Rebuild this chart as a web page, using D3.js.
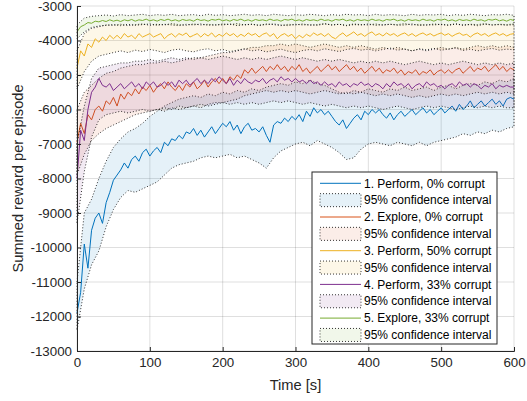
<!DOCTYPE html>
<html><head><meta charset="utf-8">
<script src="https://cdn.jsdelivr.net/npm/d3@7"></script>
<style>
html,body{margin:0;padding:0;background:#fff;}
svg{display:block;font-family:"Liberation Sans",Arial,Helvetica,sans-serif;}
</style></head>
<body>
<svg id="chart" width="527" height="401"></svg>
<script>
// ---------------- DATA ----------------
const xTicks = [0, 100, 200, 300, 400, 500, 600];
const yTicks = [-13000, -12000, -11000, -10000, -9000, -8000, -7000, -6000, -5000, -4000, -3000];
const xLabel = "Time [s]";
const yLabel = "Summed reward per episode";
const seriesNames = ["1. Perform, 0% corrupt", "2. Explore, 0% corrupt", "3. Perform, 50% corrupt", "4. Perform, 33% corrupt", "5. Explore, 33% corrupt"];
const ciName = "95% confidence interval";
const seriesColors = ["#0072BD", "#D95319", "#EDB120", "#7E2F8E", "#77AC30"];

// mean curves, sampled every 5 s from 0 to 600 s
const mean1 = [-11900,-11300,-9900,-10600,-9500,-9150,-9000,-9300,-8700,-8400,-8050,-7900,-7750,-7550,-7700,-7450,-7350,-7500,-7250,-7150,-7350,-7200,-7100,-7250,-6950,-7050,-6850,-6900,-6750,-6850,-6650,-6700,-6550,-6750,-6600,-6800,-6650,-6500,-6700,-6550,-6400,-6500,-6350,-6600,-6450,-6700,-6500,-6400,-6600,-6550,-6650,-6500,-6750,-6950,-6450,-6350,-6400,-6250,-6350,-6200,-6300,-6150,-6350,-6050,-6200,-5950,-6100,-6000,-6150,-6050,-6200,-6350,-6450,-6300,-6550,-6400,-6250,-6150,-6300,-6050,-6150,-6000,-6100,-6000,-6150,-6250,-6100,-6300,-6150,-6050,-6200,-6100,-6000,-6150,-6050,-5950,-6100,-6000,-6150,-6050,-5950,-6100,-6000,-5900,-6050,-5850,-6000,-5900,-5750,-5950,-5850,-5750,-5900,-5800,-5700,-5850,-5750,-5900,-5700,-5650,-5700];
const mean2 = [-6950,-6400,-6700,-6150,-6300,-6000,-5900,-6050,-5750,-5850,-5650,-5900,-5550,-5700,-5500,-5600,-5400,-5550,-5350,-5450,-5300,-5500,-5350,-5250,-5400,-5200,-5350,-5450,-5300,-5450,-5250,-5350,-5200,-5400,-5300,-5150,-5350,-5200,-5100,-5250,-5100,-5250,-5050,-5150,-5000,-5100,-4850,-4950,-4800,-4950,-4850,-4750,-4900,-4750,-4850,-4700,-4850,-4750,-4900,-4750,-4850,-4700,-4900,-4800,-4950,-4850,-4750,-4900,-4800,-4700,-4850,-4750,-4900,-4800,-4700,-4850,-4750,-4900,-4800,-4950,-4850,-4750,-4900,-4800,-4950,-4850,-4900,-4800,-4950,-4850,-5000,-4900,-4950,-4850,-5000,-4900,-4950,-4850,-5000,-4900,-4850,-4950,-4850,-4950,-4850,-4800,-4950,-4850,-4750,-4900,-4800,-4850,-4750,-4900,-4800,-4700,-4850,-4750,-4900,-4800,-4850];
const mean3 = [-4800,-4300,-4450,-4100,-4200,-3950,-4050,-3900,-4000,-3850,-3950,-3850,-3950,-3800,-3900,-3850,-3950,-3800,-3900,-3850,-3800,-3900,-3850,-3800,-3950,-3850,-3800,-3900,-3800,-3850,-3780,-3900,-3850,-3800,-3900,-3800,-3870,-3780,-3900,-3820,-3880,-3780,-3860,-3800,-3900,-3820,-3880,-3780,-3850,-3800,-3900,-3820,-3780,-3880,-3800,-3950,-3850,-3800,-3880,-3820,-3950,-3850,-3920,-3820,-3880,-3780,-3850,-3800,-3880,-3800,-3900,-3950,-3850,-3780,-3880,-3820,-3750,-3850,-3800,-3880,-3800,-3750,-3850,-3800,-3870,-3780,-3850,-3800,-3880,-3820,-3780,-3860,-3800,-3880,-3820,-3780,-3850,-3800,-3870,-3820,-3780,-3850,-3800,-3880,-3820,-3780,-3850,-3820,-3900,-3820,-3780,-3850,-3800,-3880,-3820,-3780,-3850,-3800,-3870,-3820,-3800];
const mean4 = [-8000,-6600,-6900,-6000,-5500,-5350,-5100,-5300,-5350,-5250,-5450,-5350,-5250,-5400,-5300,-5200,-5350,-5250,-5400,-5200,-5300,-5200,-5350,-5300,-5200,-5300,-5200,-5350,-5150,-5250,-5150,-5300,-5200,-5100,-5250,-5150,-5250,-5100,-5200,-5050,-5150,-5250,-5100,-5300,-5150,-5250,-5100,-5200,-5250,-5150,-5200,-5100,-5250,-5150,-5100,-5200,-5050,-5150,-5100,-5200,-5100,-5200,-5150,-5250,-5150,-5250,-5200,-5300,-5200,-5300,-5250,-5350,-5200,-5300,-5250,-5350,-5250,-5300,-5200,-5300,-5250,-5350,-5250,-5300,-5400,-5250,-5350,-5200,-5300,-5250,-5350,-5250,-5400,-5300,-5250,-5350,-5200,-5300,-5250,-5350,-5300,-5400,-5300,-5250,-5350,-5200,-5300,-5250,-5350,-5250,-5300,-5400,-5300,-5350,-5250,-5400,-5300,-5350,-5300,-5350,-5350];
const mean5 = [-3750,-3600,-3550,-3480,-3500,-3440,-3460,-3420,-3450,-3400,-3440,-3410,-3450,-3400,-3430,-3390,-3440,-3400,-3420,-3380,-3430,-3400,-3440,-3390,-3420,-3380,-3430,-3400,-3440,-3390,-3420,-3400,-3440,-3380,-3420,-3400,-3440,-3390,-3410,-3380,-3430,-3400,-3440,-3390,-3420,-3380,-3430,-3400,-3440,-3390,-3420,-3400,-3430,-3380,-3420,-3400,-3440,-3390,-3410,-3380,-3430,-3400,-3440,-3390,-3420,-3400,-3430,-3380,-3420,-3400,-3440,-3390,-3410,-3380,-3430,-3400,-3440,-3390,-3420,-3400,-3430,-3380,-3420,-3400,-3440,-3390,-3410,-3380,-3430,-3400,-3440,-3390,-3420,-3400,-3430,-3380,-3420,-3400,-3440,-3390,-3410,-3380,-3430,-3400,-3440,-3390,-3420,-3400,-3430,-3380,-3420,-3400,-3440,-3390,-3410,-3380,-3430,-3400,-3440,-3390,-3420];

// 95% confidence bounds, sampled every 10 s from 0 to 600 s
const upper1 = [-11000,-9000,-8600,-8000,-7500,-7100,-6850,-6650,-6550,-6400,-6200,-6050,-5900,-5800,-5700,-5650,-5600,-5650,-5550,-5600,-5500,-5550,-5450,-5500,-5400,-5450,-5350,-5300,-5250,-5300,-5200,-5250,-5150,-5250,-5300,-5400,-5500,-5550,-5450,-5500,-5400,-5450,-5500,-5400,-5450,-5350,-5450,-5400,-5350,-5450,-5350,-5300,-5400,-5300,-5250,-5300,-5200,-5250,-5150,-5200,-5100];
const lower1 = [-12400,-11200,-10500,-10100,-9400,-8900,-8550,-8350,-8400,-8300,-8200,-8100,-7900,-7700,-7600,-7550,-7500,-7400,-7350,-7400,-7350,-7300,-7400,-7350,-7450,-7550,-7700,-7400,-7200,-7100,-7000,-6950,-7050,-6900,-7000,-7100,-7250,-7450,-7400,-7150,-7000,-6950,-7000,-7050,-6950,-7000,-7050,-6950,-7050,-6950,-6900,-6850,-6800,-6700,-6750,-6650,-6700,-6600,-6650,-6550,-6500];
const upper2 = [-6000,-5500,-5300,-5100,-4950,-4900,-4800,-4750,-4700,-4700,-4650,-4650,-4600,-4650,-4600,-4550,-4500,-4500,-4450,-4400,-4350,-4350,-4300,-4250,-4200,-4200,-4150,-4150,-4100,-4150,-4100,-4150,-4200,-4150,-4100,-4150,-4200,-4150,-4200,-4150,-4200,-4250,-4200,-4250,-4200,-4250,-4300,-4250,-4300,-4250,-4200,-4250,-4200,-4250,-4200,-4150,-4200,-4150,-4200,-4150,-4200];
const lower2 = [-7900,-7300,-6900,-6700,-6550,-6450,-6350,-6250,-6150,-6100,-6050,-6000,-6050,-5950,-6000,-5950,-5900,-5950,-5850,-5800,-5800,-5750,-5700,-5600,-5550,-5500,-5450,-5500,-5450,-5500,-5450,-5500,-5550,-5500,-5450,-5500,-5550,-5500,-5550,-5500,-5550,-5600,-5550,-5600,-5550,-5600,-5650,-5600,-5650,-5600,-5550,-5600,-5550,-5600,-5550,-5500,-5550,-5500,-5550,-5500,-5550];
const upper3 = [-4300,-3800,-3650,-3600,-3550,-3560,-3530,-3570,-3540,-3520,-3560,-3530,-3550,-3510,-3540,-3560,-3520,-3550,-3530,-3560,-3520,-3540,-3510,-3550,-3530,-3560,-3520,-3540,-3570,-3530,-3550,-3520,-3560,-3540,-3510,-3550,-3530,-3560,-3520,-3540,-3550,-3520,-3560,-3530,-3540,-3510,-3550,-3530,-3560,-3520,-3540,-3550,-3520,-3560,-3530,-3540,-3510,-3550,-3530,-3540,-3520];
const lower3 = [-5400,-4900,-4600,-4450,-4400,-4350,-4300,-4350,-4280,-4320,-4260,-4300,-4350,-4280,-4250,-4300,-4330,-4270,-4240,-4300,-4260,-4320,-4280,-4240,-4300,-4270,-4330,-4290,-4250,-4310,-4350,-4290,-4260,-4300,-4240,-4280,-4320,-4260,-4230,-4280,-4250,-4300,-4260,-4220,-4280,-4250,-4300,-4240,-4270,-4230,-4280,-4250,-4220,-4290,-4250,-4300,-4260,-4230,-4280,-4250,-4270];
const upper4 = [-7000,-5900,-5100,-4800,-4750,-4700,-4650,-4650,-4600,-4600,-4550,-4600,-4550,-4500,-4550,-4500,-4550,-4500,-4550,-4500,-4450,-4500,-4550,-4500,-4550,-4500,-4550,-4500,-4450,-4500,-4550,-4500,-4550,-4600,-4550,-4600,-4550,-4600,-4650,-4600,-4650,-4600,-4650,-4600,-4650,-4700,-4650,-4600,-4650,-4700,-4650,-4700,-4650,-4600,-4650,-4700,-4650,-4700,-4650,-4700,-4650];
const lower4 = [-9300,-7800,-6800,-6300,-6150,-6100,-6050,-6100,-6050,-6000,-6050,-6000,-5950,-6000,-5900,-5950,-5900,-5850,-5900,-5850,-5800,-5850,-5800,-5850,-5800,-5850,-5800,-5750,-5800,-5750,-5800,-5850,-5800,-5850,-5900,-5850,-5900,-5950,-5900,-5950,-5900,-5950,-6000,-5950,-5900,-5950,-6000,-5950,-5900,-5950,-5900,-5950,-6000,-5950,-5900,-5950,-5900,-5950,-5900,-5950,-5950];
const upper5 = [-3550,-3350,-3300,-3280,-3260,-3290,-3250,-3280,-3260,-3240,-3280,-3250,-3270,-3240,-3280,-3260,-3250,-3280,-3240,-3270,-3250,-3280,-3260,-3240,-3270,-3250,-3280,-3240,-3260,-3280,-3250,-3270,-3240,-3260,-3280,-3250,-3270,-3240,-3260,-3250,-3280,-3240,-3270,-3250,-3260,-3280,-3240,-3270,-3250,-3260,-3240,-3280,-3250,-3270,-3240,-3260,-3280,-3250,-3260,-3240,-3270];
const lower5 = [-3950,-3750,-3620,-3580,-3560,-3540,-3570,-3530,-3560,-3540,-3520,-3560,-3530,-3550,-3570,-3530,-3550,-3520,-3560,-3540,-3550,-3520,-3570,-3540,-3530,-3560,-3540,-3520,-3550,-3570,-3530,-3550,-3540,-3560,-3520,-3550,-3530,-3570,-3540,-3550,-3520,-3560,-3540,-3530,-3560,-3550,-3520,-3570,-3540,-3550,-3530,-3560,-3520,-3550,-3540,-3570,-3530,-3550,-3540,-3560,-3540];

const means = [mean1, mean2, mean3, mean4, mean5];
const uppers = [upper1, upper2, upper3, upper4, upper5];
const lowers = [lower1, lower2, lower3, lower4, lower5];

// ---------------- DRAW ----------------
const svg = d3.select("#chart");
const L = 77, R = 514, T = 6, B = 351;
const x = d3.scaleLinear().domain([0, 600]).range([L, R]);
const y = d3.scaleLinear().domain([-13000, -3000]).range([B, T]);
const axisColor = "#262626";
const toPts = arr => arr.map((v, i) => [i * 600 / (arr.length - 1), v]);

// grid
const grid = svg.append("g");
xTicks.forEach(t => grid.append("line").attr("x1", x(t)).attr("x2", x(t)).attr("y1", T).attr("y2", B)
  .attr("stroke", axisColor).attr("stroke-opacity", 0.15).attr("stroke-width", 1));
yTicks.forEach(t => grid.append("line").attr("x1", L).attr("x2", R).attr("y1", y(t)).attr("y2", y(t))
  .attr("stroke", axisColor).attr("stroke-opacity", 0.15).attr("stroke-width", 1));

const line = d3.line().x(d => x(d[0])).y(d => y(d[1]));
const plot = svg.append("g");
for (let s = 0; s < 5; s++) {
  const up = toPts(uppers[s]);
  const lo = toPts(lowers[s]).reverse();
  const poly = up.concat(lo);
  plot.append("path").attr("d", line(poly) + "Z")
    .attr("fill", seriesColors[s]).attr("fill-opacity", 0.1)
    .attr("stroke", "#000").attr("stroke-width", 0.8).attr("stroke-dasharray", "1,2");
  plot.append("path").attr("d", line(toPts(means[s])))
    .attr("fill", "none").attr("stroke", seriesColors[s]).attr("stroke-width", 1);
}

// axes
const gx = svg.append("g").attr("transform", `translate(0,${B})`)
  .call(d3.axisBottom(x).tickValues(xTicks).tickSize(-4).tickPadding(7).tickFormat(d => String(d)));
const gy = svg.append("g").attr("transform", `translate(${L},0)`)
  .call(d3.axisLeft(y).tickValues(yTicks).tickSize(-4).tickPadding(5).tickFormat(d => String(d)));
[gx, gy].forEach(g => {
  g.select(".domain").attr("stroke", axisColor).attr("stroke-width", 1);
  g.selectAll(".tick line").attr("stroke", axisColor).attr("stroke-width", 1);
  g.selectAll(".tick text").attr("fill", axisColor).style("font-size", "13.33px")
    .style("font-family", '"Liberation Sans",Arial,sans-serif');
});

svg.append("text").attr("x", (L + R) / 2).attr("y", 390).attr("text-anchor", "middle")
  .attr("fill", axisColor).style("font-size", "14.67px").text(xLabel);
svg.append("text").attr("transform", `translate(23,${(T + B) / 2}) rotate(-90)`).attr("text-anchor", "middle")
  .attr("fill", axisColor).style("font-size", "14.67px").text(yLabel);

// legend
const lg = svg.append("g");
const lx = 312, ly = 172, lw = 185, lh = 172;
lg.append("rect").attr("x", lx).attr("y", ly).attr("width", lw).attr("height", lh)
  .attr("fill", "#fff").attr("stroke", axisColor).attr("stroke-width", 1);
const rowH = 16.85;
for (let s = 0; s < 5; s++) {
  const r1 = ly + 11.3 + (2 * s) * rowH;
  const r2 = r1 + rowH;
  lg.append("line").attr("x1", 320).attr("x2", 361).attr("y1", r1).attr("y2", r1)
    .attr("stroke", seriesColors[s]).attr("stroke-width", 1);
  lg.append("text").attr("x", 364).attr("y", r1).attr("dy", "0.35em").attr("fill", "#000")
    .style("font-size", "12px").text(seriesNames[s]);
  lg.append("rect").attr("x", 320).attr("y", r2 - 6.5).attr("width", 41).attr("height", 13)
    .attr("fill", seriesColors[s]).attr("fill-opacity", 0.1)
    .attr("stroke", "#000").attr("stroke-width", 0.8).attr("stroke-dasharray", "1,2");
  lg.append("text").attr("x", 364).attr("y", r2).attr("dy", "0.35em").attr("fill", "#000")
    .style("font-size", "12px").text(ciName);
}
</script>
</body></html>
